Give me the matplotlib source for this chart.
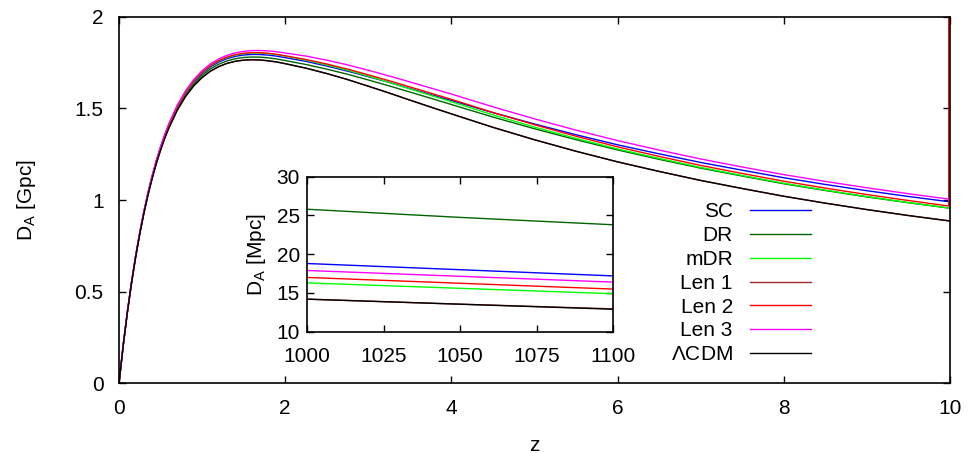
import matplotlib
matplotlib.use("Agg")
import matplotlib.pyplot as plt

plt.rcParams['font.family'] = ['Liberation Sans', 'DejaVu Sans']
plt.rcParams['mathtext.fontset'] = 'custom'
plt.rcParams['mathtext.rm'] = 'Liberation Sans'
plt.rcParams['mathtext.it'] = 'Liberation Sans'

# ---------------- data (D_A in Gpc) ----------------
z = [0, 0.05, 0.1, 0.15, 0.2, 0.25, 0.3, 0.35, 0.4, 0.45, 0.5, 0.55, 0.6, 0.7, 0.8, 0.9,
     1.0, 1.1, 1.2, 1.3, 1.4, 1.5, 1.6, 1.7, 1.8, 1.9, 2.0, 2.25, 2.5, 2.75, 3.0, 3.25,
     3.5, 3.75, 4.0, 4.5, 5.0, 5.5, 6.0, 6.5, 7.0, 7.5, 8.0, 8.5, 9.0, 9.5, 10.0]

sc = [0, 0.2046, 0.3863, 0.5482, 0.6924, 0.8212, 0.9361, 1.0387, 1.1305, 1.2119, 1.2847,
      1.3500, 1.4078, 1.5058, 1.5832, 1.6437, 1.6904, 1.7263, 1.7528, 1.7714, 1.7838,
      1.7911, 1.7941, 1.7937, 1.7903, 1.7847, 1.7768, 1.7562, 1.7309, 1.7031, 1.6728,
      1.6417, 1.6081, 1.5751, 1.5429, 1.4764, 1.4147, 1.3559, 1.3010, 1.2518, 1.2047,
      1.1626, 1.1215, 1.0848, 1.0507, 1.0192, 0.9900]
dr = [0, 0.2041, 0.3853, 0.5462, 0.6894, 0.8177, 0.9321, 1.0337, 1.1245, 1.2059, 1.2787,
      1.3435, 1.4008, 1.4978, 1.5742, 1.6342, 1.6804, 1.7153, 1.7408, 1.7589, 1.7708,
      1.7776, 1.7801, 1.7792, 1.7753, 1.7692, 1.7608, 1.7392, 1.7139, 1.6861, 1.6548,
      1.6227, 1.5891, 1.5551, 1.5209, 1.4524, 1.3887, 1.3289, 1.2730, 1.2218, 1.1737,
      1.1306, 1.0885, 1.0518, 1.0167, 0.9852, 0.9550]
mdr = [0, 0.2051, 0.3873, 0.5492, 0.6934, 0.8222, 0.9371, 1.0397, 1.1315, 1.2134, 1.2867,
       1.3525, 1.4108, 1.5093, 1.5872, 1.6482, 1.6954, 1.7318, 1.7588, 1.7779, 1.7908,
       1.7986, 1.8021, 1.8017, 1.7983, 1.7927, 1.7848, 1.7632, 1.7369, 1.7081, 1.6758,
       1.6417, 1.6061, 1.5711, 1.5359, 1.4644, 1.3977, 1.3359, 1.2785, 1.2268, 1.1777,
       1.1336, 1.0915, 1.0538, 1.0187, 0.9862, 0.9560]
len1 = [0, 0.2036, 0.3843, 0.5447, 0.6874, 0.8147, 0.9281, 1.0292, 1.1195, 1.1999, 1.2717,
        1.3360, 1.3928, 1.4888, 1.5642, 1.6232, 1.6684, 1.7028, 1.7278, 1.7454, 1.7568,
        1.7631, 1.7651, 1.7637, 1.7593, 1.7527, 1.7438, 1.7192, 1.6899, 1.6571, 1.6208,
        1.5837, 1.5451, 1.5071, 1.4699, 1.3964, 1.3287, 1.2659, 1.2080, 1.1558, 1.1067,
        1.0626, 1.0205, 0.9828, 0.9477, 0.9152, 0.8860]
# Len 2 jumps off the top of the plot at the right edge
z_len2 = z[:-1] + [9.985, 9.985]
len2 = [0, 0.2051, 0.3873, 0.5492, 0.6934, 0.8227, 0.9381, 1.0407, 1.1325, 1.2144, 1.2877,
        1.3535, 1.4118, 1.5108, 1.5892, 1.6502, 1.6974, 1.7338, 1.7608, 1.7799, 1.7928,
        1.8006, 1.8041, 1.8037, 1.8003, 1.7947, 1.7868, 1.7662, 1.7419, 1.7141, 1.6828,
        1.6507, 1.6171, 1.5831, 1.5489, 1.4774, 1.4107, 1.3479, 1.2900, 1.2378, 1.1887,
        1.1446, 1.1025, 1.0648, 1.0297, 0.9972, 0.9671, 2.5]
len3 = [0, 0.2056, 0.3883, 0.5507, 0.6954, 0.8247, 0.9401, 1.0432, 1.1355, 1.2179, 1.2917,
        1.3580, 1.4168, 1.5168, 1.5952, 1.6572, 1.7054, 1.7428, 1.7698, 1.7894, 1.8028,
        1.8111, 1.8151, 1.8157, 1.8133, 1.8087, 1.8018, 1.7852, 1.7629, 1.7371, 1.7078,
        1.6767, 1.6441, 1.6111, 1.5779, 1.5084, 1.4427, 1.3809, 1.3240, 1.2723, 1.2237,
        1.1801, 1.1385, 1.1013, 1.0667, 1.0342, 1.0040]
lcdm = [0, 0.2036, 0.3843, 0.5447, 0.6874, 0.8147, 0.9281, 1.0292, 1.1195, 1.1999, 1.2717,
        1.3360, 1.3928, 1.4888, 1.5642, 1.6232, 1.6684, 1.7028, 1.7278, 1.7454, 1.7568,
        1.7631, 1.7651, 1.7637, 1.7593, 1.7527, 1.7438, 1.7192, 1.6899, 1.6571, 1.6208,
        1.5837, 1.5451, 1.5071, 1.4699, 1.3964, 1.3287, 1.2659, 1.2080, 1.1558, 1.1067,
        1.0626, 1.0205, 0.9828, 0.9477, 0.9152, 0.8850]

# inset (D_A in Mpc)
z_in = [1000, 1050, 1100]
sc_in   = [18.8, 18.0, 17.2]
dr_in   = [25.8, 24.75, 23.8]
mdr_in  = [16.3, 15.6, 14.9]
len1_in = [14.2, 13.55, 12.95]
len2_in = [17.0, 16.25, 15.5]
len3_in = [17.9, 17.15, 16.4]
lcdm_in = [14.2, 13.55, 12.9]

labels = ['SC', 'DR', 'mDR', 'Len 1', 'Len 2', 'Len 3', r'$\Lambda$CDM']
colors = ['#0000ff', '#006400', '#00ff00', '#a52a2a', '#ff0000', '#ff00ff', '#000000']

main_x = [z, z, z, z, z_len2, z, z]
main_y = [sc, dr, mdr, len1, len2, len3, lcdm]
inset_y = [sc_in, dr_in, mdr_in, len1_in, len2_in, len3_in, lcdm_in]

# ---------------- figure ----------------
W, H = 968, 453
fig = plt.figure(figsize=(W / 100, H / 100), dpi=100)
ax = fig.add_axes([119 / W, 1 - 383.3 / H, (950 - 119) / W, (383.3 - 16.7) / H])

fs = 15
lw = 1.0
for xs, ys, c, lab in zip(main_x, main_y, colors, labels):
    ax.plot(xs, ys, color=c, lw=lw, label=lab)

ax.set_xlim(0, 10)
ax.set_ylim(0, 2)
ax.set_xticks([0, 2, 4, 6, 8, 10])
ax.set_yticks([0, 0.5, 1, 1.5, 2])
ax.set_yticklabels(['0', '0.5', '1', '1.5', '2'])
ax.tick_params(direction='in', length=5, width=1, top=True, right=True,
               labelsize=fs, pad=11)
for s in ax.spines.values():
    s.set_linewidth(1.2)
ax.set_xlabel('z', fontsize=fs, labelpad=13)
ax.set_ylabel(r'D$_\mathregular{A}$ [Gpc]', fontsize=fs, labelpad=26)

leg = ax.legend(loc='upper right', bbox_to_anchor=(811 / W, 1 - 202.5 / H),
                bbox_transform=fig.transFigure, frameon=False, fontsize=fs,
                markerfirst=False, handlelength=2.93, handletextpad=0.82,
                labelspacing=0.23, borderpad=0, borderaxespad=0)

# ---------------- inset ----------------
axi = fig.add_axes([307 / W, 1 - 331.7 / H, (613 - 307) / W, (331.7 - 176.7) / H])
for ys, c in zip(inset_y, colors):
    axi.plot(z_in, ys, color=c, lw=lw)
axi.set_xlim(1000, 1100)
axi.set_ylim(10, 30)
axi.set_xticks([1000, 1025, 1050, 1075, 1100])
axi.set_yticks([10, 15, 20, 25, 30])
axi.tick_params(direction='in', length=5, width=1, top=True, right=True,
                labelsize=fs, pad=11)
axi.tick_params(axis='y', pad=5)
for s in axi.spines.values():
    s.set_linewidth(1.2)
axi.set_ylabel(r'D$_\mathregular{A}$ [Mpc]', fontsize=fs, labelpad=6)

fig.savefig('out.png', dpi=100)
